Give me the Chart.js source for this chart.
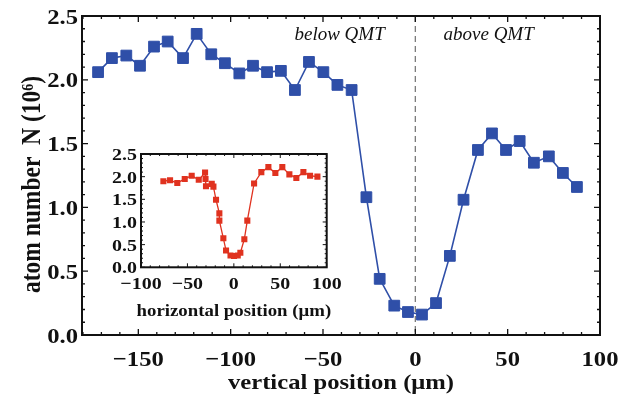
<!DOCTYPE html>
<html>
<head>
<meta charset="utf-8">
<script src="https://cdn.jsdelivr.net/npm/chart.js@4/dist/chart.umd.min.js"></script>
<style>
  html, body { margin: 0; padding: 0; background: #fff; }
  #wrap { position: relative; width: 641px; height: 405px; }
  #main { position: absolute; left: 0; top: 0; }
  #inset { position: absolute; left: 95px; top: 140px; }
</style>
</head>
<body>
<div id="wrap">
  <canvas id="main" width="641" height="405"></canvas>
  <canvas id="inset" width="250" height="190"></canvas>
</div>
<script>
// ---- Main plot data (vertical position in um, atom number in 10^6) ----
const mainX = [-171.8, -164.3, -156.5, -149.1, -141.5, -134.1, -125.8, -118.4, -110.5, -103.1,
               -95.3, -87.9, -80.3, -72.8, -65.2, -57.6, -49.8, -42.2, -34.5, -26.5,
               -19.3, -11.4, -4.0, 3.6, 11.2, 18.7, 26.1, 33.9, 41.5, 49.1,
               56.5, 64.2, 72.3, 79.9, 87.5];
const mainY = [2.06, 2.17, 2.19, 2.11, 2.26, 2.30, 2.17, 2.36, 2.20, 2.13,
               2.05, 2.11, 2.06, 2.07, 1.92, 2.14, 2.06, 1.96, 1.92, 1.08,
               0.44, 0.23, 0.18, 0.16, 0.25, 0.62, 1.06, 1.45, 1.58, 1.45,
               1.52, 1.35, 1.40, 1.27, 1.16];
const mainXTicks = [-150, -100, -50, 0, 50, 100];
const mainYTicks = [0, 0.5, 1.0, 1.5, 2.0, 2.5];

// ---- Inset data (horizontal position in um) ----
const insetX = [-75.9, -68.7, -60.9, -52.9, -45.4, -37.8, -31.0, -30.5, -30.0, -23.8,
                -22.0, -19.2, -15.6, -15.6, -11.3, -8.4, -3.6, 0.2, 4.2, 7.0,
                11.3, 14.5, 21.8, 29.6, 37.2, 44.7, 52.2, 59.8, 67.3, 74.9,
                82.1, 90.0];
const insetY = [1.90, 1.92, 1.86, 1.95, 2.02, 1.93, 2.09, 1.95, 1.79, 1.84,
                1.78, 1.49, 1.19, 1.03, 0.64, 0.37, 0.26, 0.25, 0.26, 0.32,
                0.62, 1.03, 1.85, 2.10, 2.21, 2.08, 2.21, 2.05, 1.97, 2.10,
                2.02, 2.00];
const insetXTicks = [-100, -50, 0, 50, 100];
const insetYTicks = [0, 0.5, 1.0, 1.5, 2.0, 2.5];

const regionLabels = ['below QMT', 'above QMT'];
const mainXTitle = 'vertical position (\u03bcm)';
const mainYTitle = 'atom number  N (10\u2076)';
const insetXTitle = 'horizontal position (\u03bcm)';

const SERIF = '"Liberation Serif", "DejaVu Serif", serif';
Chart.defaults.font.family = SERIF;
Chart.defaults.color = '#111';

function fmtX(v) { return v < 0 ? '\u2212' + Math.abs(v) : String(v); }
function fmtY(v) { return Number(v).toFixed(1); }

// Frame with inward ticks on all four sides
const framePlugin = {
  id: 'frame',
  afterDraw(chart, args, o) {
    const { ctx, chartArea: a, scales: { x, y } } = chart;
    ctx.save();
    ctx.strokeStyle = '#111';
    ctx.lineWidth = o.tickWidth;
    const xs = (v, len) => {
      const p = x.getPixelForValue(v);
      ctx.beginPath();
      ctx.moveTo(p, a.bottom); ctx.lineTo(p, a.bottom - len);
      ctx.moveTo(p, a.top); ctx.lineTo(p, a.top + len);
      ctx.stroke();
    };
    const ys = (v, len) => {
      const p = y.getPixelForValue(v);
      ctx.beginPath();
      ctx.moveTo(a.left, p); ctx.lineTo(a.left + len, p);
      ctx.moveTo(a.right, p); ctx.lineTo(a.right - len, p);
      ctx.stroke();
    };
    for (let v = Math.ceil(x.min / o.xMinor) * o.xMinor; v <= x.max + 1e-9; v += o.xMinor) {
      const isMajor = Math.abs(v / o.xMajor - Math.round(v / o.xMajor)) < 1e-6;
      xs(v, isMajor ? o.majorLen : o.minorLen);
    }
    for (let v = Math.ceil(y.min / o.yMinor - 1e-9) * o.yMinor; v <= y.max + 1e-9; v += o.yMinor) {
      const isMajor = Math.abs(v / o.yMajor - Math.round(v / o.yMajor)) < 1e-6;
      ys(v, isMajor ? o.majorLen : o.minorLen);
    }
    ctx.lineWidth = o.frameWidth;
    ctx.strokeRect(a.left, a.top, a.right - a.left, a.bottom - a.top);
    ctx.restore();
  }
};

// Tick labels and axis titles, drawn from the scales' ticks (slightly widened serif)
const textPlugin = {
  id: 'texts',
  afterDraw(chart, args, o) {
    const { ctx, chartArea: a, scales: { x, y } } = chart;
    const put = (txt, px, py, align, font, rot) => {
      ctx.save();
      ctx.translate(px, py);
      ctx.scale(o.sx, 1);
      if (rot) ctx.rotate(rot);
      ctx.font = font;
      ctx.textAlign = align;
      ctx.textBaseline = 'alphabetic';
      ctx.fillStyle = '#111';
      ctx.fillText(txt, 0, 0);
      ctx.restore();
    };
    x.ticks.forEach(t => put(fmtX(t.value), x.getPixelForValue(t.value), a.bottom + o.xLabelDy, 'center', o.tickFont));
    y.ticks.forEach(t => put(fmtY(t.value), a.left - o.yLabelDx, y.getPixelForValue(t.value) + o.yLabelDy, 'right', o.tickFont));
    if (o.xTitle) put(o.xTitle, (a.left + a.right) / 2, a.bottom + o.xTitleDy, 'center', o.titleFont);
    if (o.yTitle) put(o.yTitle, a.left - o.yTitleDx, (a.top + a.bottom) / 2 + o.yTitleShift, 'center', o.yTitleFont, -Math.PI / 2);
  }
};

// Dashed line at x = 0 and region labels (main chart only)
const markerPlugin = {
  id: 'marker',
  beforeDatasetsDraw(chart) {
    const { ctx, chartArea: a, scales: { x, y } } = chart;
    const p = x.getPixelForValue(0);
    ctx.save();
    ctx.strokeStyle = '#7a7a7a';
    ctx.lineWidth = 1.3;
    ctx.setLineDash([6, 4]);
    ctx.beginPath();
    ctx.moveTo(p, a.top); ctx.lineTo(p, a.bottom);
    ctx.stroke();
    ctx.setLineDash([]);
    ctx.fillStyle = '#111';
    ctx.font = 'italic 19px ' + SERIF;
    ctx.textAlign = 'center';
    ctx.textBaseline = 'middle';
    ctx.fillText(regionLabels[0], x.getPixelForValue(-41), y.getPixelForValue(2.35));
    ctx.fillText(regionLabels[1], x.getPixelForValue(39.7), y.getPixelForValue(2.35));
    ctx.restore();
  }
};

const hiddenTicks = { display: false };

new Chart(document.getElementById('main'), {
  type: 'line',
  data: {
    datasets: [{
      data: mainX.map((v, i) => ({ x: v, y: mainY[i] })),
      borderColor: '#2f4fa8',
      backgroundColor: '#2f4fa8',
      borderWidth: 1.6,
      pointStyle: 'rect',
      pointRadius: 7.6,
      pointBorderWidth: 1,
      pointBorderColor: '#2f4fa8',
      pointBackgroundColor: '#2f4fa8',
      tension: 0
    }]
  },
  options: {
    responsive: false,
    animation: false,
    layout: { padding: { top: 16, right: 41, left: 0, bottom: 0 } },
    plugins: {
      legend: { display: false },
      tooltip: { enabled: false },
      frame: { xMajor: 50, xMinor: 10, yMajor: 0.5, yMinor: 0.1, majorLen: 6, minorLen: 3, tickWidth: 1.3, frameWidth: 2 },
      texts: {
        sx: 1.12,
        tickFont: 'bold 22px ' + SERIF,
        titleFont: 'bold 22px ' + SERIF,
        yTitleFont: 'bold 23.5px ' + SERIF,
        xLabelDy: 31, yLabelDx: 4, yLabelDy: 7.5,
        xTitleDy: 54, yTitleDx: 42, yTitleShift: 9,
        xTitle: mainXTitle, yTitle: mainYTitle
      }
    },
    scales: {
      x: {
        type: 'linear', min: -180.5, max: 100,
        grid: { display: false, drawTicks: false },
        border: { display: false },
        afterBuildTicks: s => { s.ticks = mainXTicks.map(v => ({ value: v })); },
        afterFit: s => { s.height = 70; },
        ticks: hiddenTicks
      },
      y: {
        type: 'linear', min: 0, max: 2.5,
        grid: { display: false, drawTicks: false },
        border: { display: false },
        afterBuildTicks: s => { s.ticks = mainYTicks.map(v => ({ value: v })); },
        afterFit: s => { s.width = 82; },
        ticks: hiddenTicks
      }
    }
  },
  plugins: [markerPlugin, framePlugin, textPlugin]
});

new Chart(document.getElementById('inset'), {
  type: 'line',
  data: {
    datasets: [{
      data: insetX.map((v, i) => ({ x: v, y: insetY[i] })),
      borderColor: '#e0321f',
      backgroundColor: '#e0321f',
      borderWidth: 1.3,
      pointStyle: 'rect',
      pointRadius: 4.3,
      pointBorderWidth: 0,
      pointBackgroundColor: '#e0321f',
      tension: 0
    }]
  },
  options: {
    responsive: false,
    animation: false,
    layout: { padding: { top: 14, right: 18.3, left: 0, bottom: 0 } },
    plugins: {
      legend: { display: false },
      tooltip: { enabled: false },
      frame: { xMajor: 50, xMinor: 10, yMajor: 0.5, yMinor: 0.1, majorLen: 4, minorLen: 2, tickWidth: 1, frameWidth: 2 },
      texts: {
        sx: 1.14,
        tickFont: 'bold 17.5px ' + SERIF,
        titleFont: 'bold 16.5px ' + SERIF,
        xLabelDy: 21.5, yLabelDx: 4, yLabelDy: 6,
        xTitleDy: 48.5,
        xTitle: insetXTitle
      }
    },
    scales: {
      x: {
        type: 'linear', min: -100, max: 100,
        grid: { display: false, drawTicks: false },
        border: { display: false },
        afterBuildTicks: s => { s.ticks = insetXTicks.map(v => ({ value: v })); },
        afterFit: s => { s.height = 62.7; },
        ticks: hiddenTicks
      },
      y: {
        type: 'linear', min: 0, max: 2.5,
        grid: { display: false, drawTicks: false },
        border: { display: false },
        afterBuildTicks: s => { s.ticks = insetYTicks.map(v => ({ value: v })); },
        afterFit: s => { s.width = 46; },
        ticks: hiddenTicks
      }
    }
  },
  plugins: [framePlugin, textPlugin]
});
</script>
</body>
</html>
